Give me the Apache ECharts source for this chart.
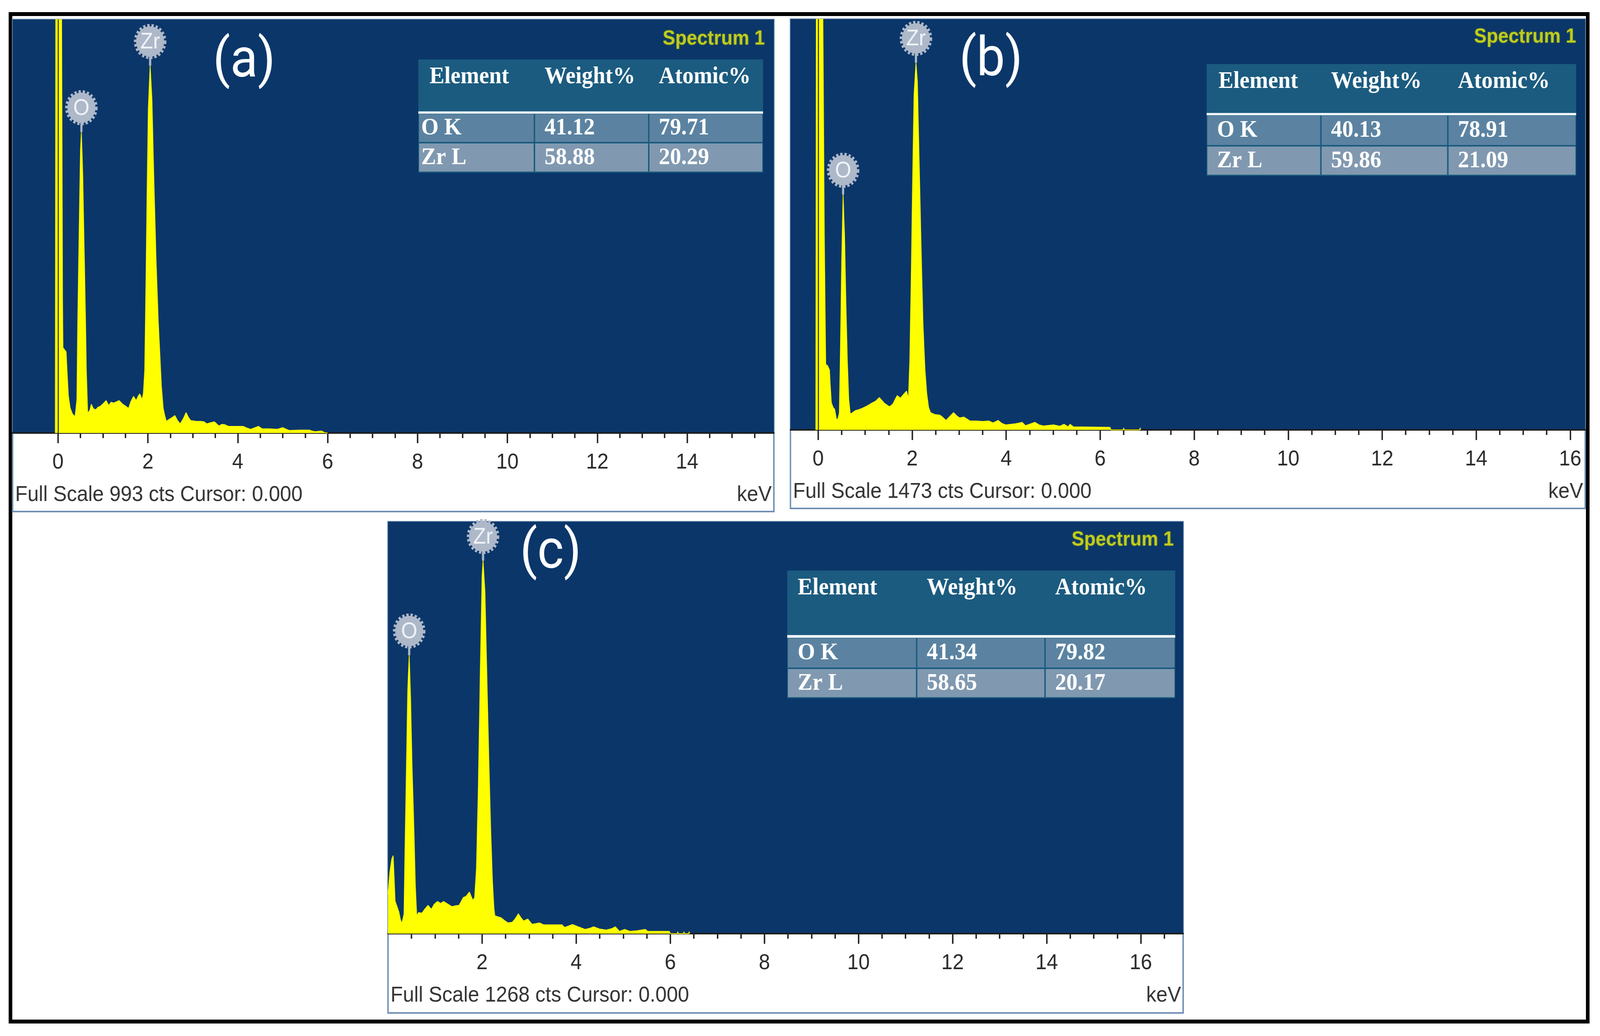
<!DOCTYPE html>
<html>
<head>
  <meta charset="utf-8">
  <title>EDS spectra</title>
  <script src="https://cdn.jsdelivr.net/npm/echarts@6.0.0/dist/echarts.min.js"></script>
</head>
<body style="margin:0;background:#fff;overflow:hidden">
<div id="chart" style="width:4437px;height:2651px;transform-origin:0 0"></div>
<script>
// spectra: [keV, counts]
const specA = [[-0.06,0],[-0.05,993],[0.08,993],[0.10,320],[0.11,205],[0.18,195],[0.20,150],[0.23,90],[0.27,60],[0.32,46],
  [0.38,39],[0.42,80],[0.44,270],[0.47,480],[0.50,680],[0.52,723],[0.55,620],[0.58,450],[0.61,280],[0.63,150],
  [0.66,47],[0.71,55],[0.74,69],[0.79,58],[0.84,56],[0.89,62],[0.94,64],[1.00,70],[1.07,78],[1.13,66],
  [1.18,74],[1.24,72],[1.30,75],[1.36,78],[1.44,69],[1.50,65],[1.57,59],[1.62,75],[1.68,88],[1.74,78],
  [1.79,90],[1.82,94],[1.87,80],[1.90,95],[1.93,150],[1.95,300],[1.98,560],[2.01,780],[2.05,882],[2.09,800],
  [2.13,620],[2.18,420],[2.23,270],[2.27,180],[2.30,113],[2.34,60],[2.37,44],[2.41,28],[2.49,34],[2.55,38],
  [2.60,42],[2.66,30],[2.72,22],[2.79,35],[2.85,49],[2.90,38],[2.95,30],[3.08,28],[3.18,28],[3.25,27],
  [3.31,22],[3.40,25],[3.48,27],[3.58,17],[3.65,21],[3.71,20],[3.79,16],[4.00,16],[4.12,16],[4.20,12],
  [4.29,9],[4.46,16],[4.54,10],[4.70,10],[4.88,9],[5.00,13],[5.08,9],[5.15,6],[5.40,7],[5.59,7],
  [5.65,5],[5.72,3],[5.86,5],[5.93,1],[6.00,0]];

const specB = [[-0.05,0],[-0.04,1473],[0.10,1473],[0.13,700],[0.16,235],[0.20,230],[0.24,215],[0.26,150],[0.28,97],[0.32,80],[0.35,74],
  [0.39,36],[0.42,40],[0.45,60],[0.47,250],[0.50,600],[0.53,844],[0.56,700],[0.59,450],[0.62,250],[0.65,110],
  [0.68,60],[0.70,58],[0.75,64],[0.79,69],[0.85,72],[0.92,76],[1.01,83],[1.08,90],[1.15,97],[1.23,104],
  [1.30,116],[1.36,105],[1.41,95],[1.52,83],[1.59,93],[1.64,110],[1.68,123],[1.75,114],[1.82,128],[1.88,139],
  [1.92,111],[1.95,250],[1.98,550],[2.01,900],[2.04,1200],[2.08,1317],[2.11,1250],[2.15,950],[2.19,650],[2.23,380],
  [2.27,220],[2.31,130],[2.35,80],[2.39,62],[2.48,55],[2.59,53],[2.65,45],[2.72,34],[2.80,48],[2.88,62],
  [2.95,50],[3.01,43],[3.10,46],[3.23,32],[3.37,32],[3.50,30],[3.63,32],[3.72,25],[3.83,34],[3.90,24],
  [3.99,18],[4.20,22],[4.34,27],[4.41,15],[4.61,27],[4.70,18],[4.79,14],[5.01,18],[5.14,13],[5.23,20],
  [5.32,11],[5.36,20],[5.43,11],[5.80,10],[6.21,9],[6.23,0],[6.49,0],[6.50,7],[6.51,0],[6.84,0],[6.85,7],[6.86,0]];

const specC = [[0.00,120],[0.04,190],[0.08,230],[0.11,240],[0.13,170],[0.15,100],[0.20,80],[0.23,67],[0.26,45],[0.29,31],
  [0.32,47],[0.34,60],[0.36,250],[0.39,500],[0.42,750],[0.45,857],[0.48,720],[0.51,520],[0.55,320],[0.58,150],
  [0.61,55],[0.65,65],[0.72,63],[0.78,75],[0.85,87],[0.92,75],[0.98,90],[1.05,99],[1.12,93],[1.18,99],
  [1.27,91],[1.36,83],[1.44,86],[1.51,87],[1.60,111],[1.66,115],[1.73,128],[1.80,103],[1.84,110],[1.88,200],
  [1.92,450],[1.96,800],[2.00,1100],[2.02,1148],[2.06,1050],[2.10,800],[2.14,550],[2.18,330],[2.22,160],[2.25,80],
  [2.27,55],[2.33,52],[2.40,49],[2.48,40],[2.55,33],[2.64,35],[2.70,45],[2.77,61],[2.83,48],[2.88,39],
  [2.97,45],[3.06,29],[3.15,31],[3.22,33],[3.31,27],[3.50,27],[3.70,27],[3.75,19],[3.85,24],[3.92,28],
  [4.04,21],[4.19,13],[4.30,17],[4.37,21],[4.50,14],[4.63,11],[4.75,15],[4.83,21],[4.92,7],[5.03,13],
  [5.14,7],[5.30,9],[5.47,13],[5.52,7],[5.98,7],[6.00,0],[6.15,0],[6.16,6],[6.17,0],[6.28,0],[6.29,6],[6.30,0],
  [6.39,0],[6.40,6],[6.41,0]];

// peak labels
const peakNames = ['O', 'Zr'];
const peakA = [[0.52, 723], [2.05, 882]];
const peakB = [[0.53, 844], [2.08, 1317]];
const peakC = [[0.45, 857], [2.02, 1148]];

// quantification tables
const tableHead = ['Element', 'Weight%', 'Atomic%'];
const elementRows = ['O K', 'Zr L'];
const weightA = ['41.12', '58.88'], atomicA = ['79.71', '20.29'];
const weightB = ['40.13', '59.86'], atomicB = ['78.91', '21.09'];
const weightC = ['41.34', '58.65'], atomicC = ['79.82', '20.17'];

const fullScale = [993, 1473, 1268];
const panelLetters = ['(a)', '(b)', '(c)'];
const majorA = [0, 2, 4, 6, 8, 10, 12, 14];
const majorB = [0, 2, 4, 6, 8, 10, 12, 14, 16];
const majorC = [2, 4, 6, 8, 10, 12, 14, 16];

// layout of the three panels (pixels)
const panels = [
  {spec: specA, peaks: peakA, weight: weightA, atomic: atomicA, major: majorA,
   left: 35, top: 50, right: 2146, axisY: 1108, bottom: 1309, xmin: -1.01, xmax: 15.93, zeroLine: true,
   letter: [677, 161], specLabel: [2121, 100],
   table: {cols: [1160, 1482, 1799, 2116], top: 152, lineTop: 285, lineBot: 291, split: 365, bottom: 442, padHead: 31, padRow: 8}},
  {spec: specB, peaks: peakB, weight: weightB, atomic: atomicB, major: majorB,
   left: 2192, top: 49, right: 4396, axisY: 1100, bottom: 1301, xmin: -0.59, xmax: 16.32, zeroLine: true,
   letter: [2748, 158], specLabel: [4371, 95],
   table: {cols: [3346, 3663, 4015, 4371], top: 164, lineTop: 289, lineBot: 295, split: 373, bottom: 450, padHead: 33, padRow: 29}},
  {spec: specC, peaks: peakC, weight: weightC, atomic: atomicC, major: majorC,
   left: 1076, top: 1335, right: 3281, axisY: 2389, bottom: 2592, xmin: 0, xmax: 16.9, zeroLine: false,
   letter: [1527, 1418], specLabel: [3255, 1382],
   table: {cols: [2183, 2542, 2898, 3259], top: 1460, lineTop: 1625, lineBot: 1632, split: 1710, bottom: 1787, padHead: 29, padRow: 29}}
];

const NAVY = '#0b3669', HEAD = '#1b5b7f', ROW1 = '#5b83a1', ROW2 = '#8099b0';
const MARK = '#adb8c9';

function minorTicks(from, to) {
  const out = [];
  for (let v = from; v <= to + 1e-9; v += 0.5) out.push(v);
  return out;
}

// drawn on a 4437 x 2651 board, stretched to fill whatever viewport the browser gives
const dom = document.getElementById('chart');
dom.style.transform = 'scale(' + (window.innerWidth / 4437) + ',' + (window.innerHeight / 2651) + ')';

const chart = echarts.init(dom);
const grid = [], xAxis = [], yAxis = [], series = [], graphic = [];

graphic.push({type: 'rect', z: -10, shape: {x: 29, y: 36, width: 4374, height: 2578},
  style: {fill: 'none', stroke: '#000', lineWidth: 10}});

panels.forEach((p, i) => {
  grid.push({left: p.left, top: p.top, width: p.right - p.left, height: p.axisY - p.top,
    show: true, backgroundColor: NAVY, borderWidth: 0});

  xAxis.push({gridIndex: i, type: 'value', position: 'bottom', min: p.xmin, max: p.xmax,
    axisLine: {show: true, onZero: false, lineStyle: {color: '#1d1d1d', width: 4}},
    axisTick: {show: true, customValues: p.major, length: 26, lineStyle: {color: '#222', width: 4}},
    axisLabel: {show: true, customValues: p.major, margin: 48, fontSize: 56, color: '#2a2a2a',
      fontFamily: 'Liberation Sans'},
    splitLine: {show: false}});
  xAxis.push({gridIndex: i, type: 'value', position: 'bottom', min: p.xmin, max: p.xmax,
    axisLine: {show: false},
    axisTick: {show: true, customValues: minorTicks(p.zeroLine ? 0 : 0.5, p.xmax),
      length: 13, lineStyle: {color: '#222', width: 4}},
    axisLabel: {show: false}, splitLine: {show: false}});
  yAxis.push({gridIndex: i, type: 'value', min: 0, max: fullScale[i], show: false});

  const line = {type: 'line', xAxisIndex: 2 * i, yAxisIndex: i, data: p.spec,
    symbol: 'none', animation: false,
    lineStyle: {color: '#ffff00', width: 2}, areaStyle: {color: '#ffff00', opacity: 1}};
  if (p.zeroLine) {
    line.markLine = {silent: true, symbol: 'none', label: {show: false}, animation: false,
      lineStyle: {color: '#35351c', width: 3, type: 'solid'}, data: [{xAxis: 0}]};
  }
  series.push(line);

  series.push({type: 'custom', xAxisIndex: 2 * i, yAxisIndex: i, data: p.peaks, z: 5, animation: false,
    renderItem: function (params, api) {
      const pt = api.coord([api.value(0), api.value(1)]);
      const cy = pt[1] - 62;
      return {type: 'group', children: [
        {type: 'line', shape: {x1: pt[0], y1: pt[1], x2: pt[0], y2: cy}, style: {stroke: MARK, lineWidth: 6}},
        {type: 'circle', shape: {cx: pt[0], cy: cy, r: 39},
          style: {fill: MARK, stroke: MARK, lineWidth: 12, lineDash: [6, 5]}},
        {type: 'text', style: {text: peakNames[params.dataIndex], x: pt[0], y: cy + 2, align: 'center',
          verticalAlign: 'middle', fill: '#f0f3f8', fontSize: 58, fontFamily: 'Liberation Sans'}}
      ]};
    }});

  // panel frame and white strip under the plot
  graphic.push({type: 'rect', z: -5, shape: {x: p.left, y: p.top, width: p.right - p.left, height: p.bottom - p.top},
    style: {fill: '#fff', stroke: '#6f8fb7', lineWidth: 4}});

  graphic.push({type: 'text', z: 20, style: {text: panelLetters[i], x: p.letter[0], y: p.letter[1],
    align: 'center', verticalAlign: 'middle', fontSize: 140, fontFamily: 'Roboto', fill: '#fff'}});
  graphic.push({type: 'text', z: 20, style: {text: 'Spectrum 1', x: p.specLabel[0], y: p.specLabel[1],
    align: 'right', verticalAlign: 'middle', fontSize: 52, fontWeight: 'bold', fontFamily: 'Liberation Sans',
    fill: '#bfcc1e', textShadowColor: 'rgba(120,140,20,0.7)', textShadowBlur: 4}});
  graphic.push({type: 'text', z: 20, style: {text: 'Full Scale ' + fullScale[i] + ' cts Cursor: 0.000',
    x: p.left + 7, y: p.axisY + 159, align: 'left', verticalAlign: 'middle', fontSize: 56,
    fontFamily: 'Liberation Sans', fill: '#333'}});
  graphic.push({type: 'text', z: 20, style: {text: 'keV', x: p.right - 6, y: p.axisY + 159,
    align: 'right', verticalAlign: 'middle', fontSize: 56, fontFamily: 'Liberation Sans', fill: '#333'}});

  // table
  const t = p.table, c = t.cols;
  graphic.push({type: 'rect', z: 15, shape: {x: c[0], y: t.top, width: c[3] - c[0], height: t.bottom - t.top},
    style: {fill: HEAD}});
  graphic.push({type: 'rect', z: 16, shape: {x: c[0], y: t.lineTop, width: c[3] - c[0], height: t.lineBot - t.lineTop},
    style: {fill: '#eef3f8'}});
  const rowVals = [elementRows, p.weight, p.atomic];
  for (let j = 0; j < 3; j++) {
    const x0 = c[j] + 2, w = c[j + 1] - c[j] - 4;
    graphic.push({type: 'rect', z: 16, shape: {x: x0, y: t.lineBot + 1, width: w, height: t.split - t.lineBot - 3},
      style: {fill: ROW1}});
    graphic.push({type: 'rect', z: 16, shape: {x: x0, y: t.split + 2, width: w, height: t.bottom - t.split - 5},
      style: {fill: ROW2}});
    const font = {fontSize: 62, fontWeight: 'bold', fontFamily: 'Liberation Serif', fill: '#fff',
      align: 'left', verticalAlign: 'middle'};
    graphic.push({type: 'text', z: 17, style: Object.assign({text: tableHead[j],
      x: c[j] + (j === 0 ? t.padHead : 28), y: t.top + 45}, font)});
    for (let r = 0; r < 2; r++) {
      const yc = r === 0 ? (t.lineBot + t.split) / 2 : (t.split + t.bottom) / 2;
      graphic.push({type: 'text', z: 17, style: Object.assign({text: rowVals[j][r],
        x: c[j] + (j === 0 ? t.padRow : 28), y: yc}, font)});
    }
  }
});

chart.setOption({animation: false, backgroundColor: '#fff', grid, xAxis, yAxis, series, graphic});
</script>
</body>
</html>
